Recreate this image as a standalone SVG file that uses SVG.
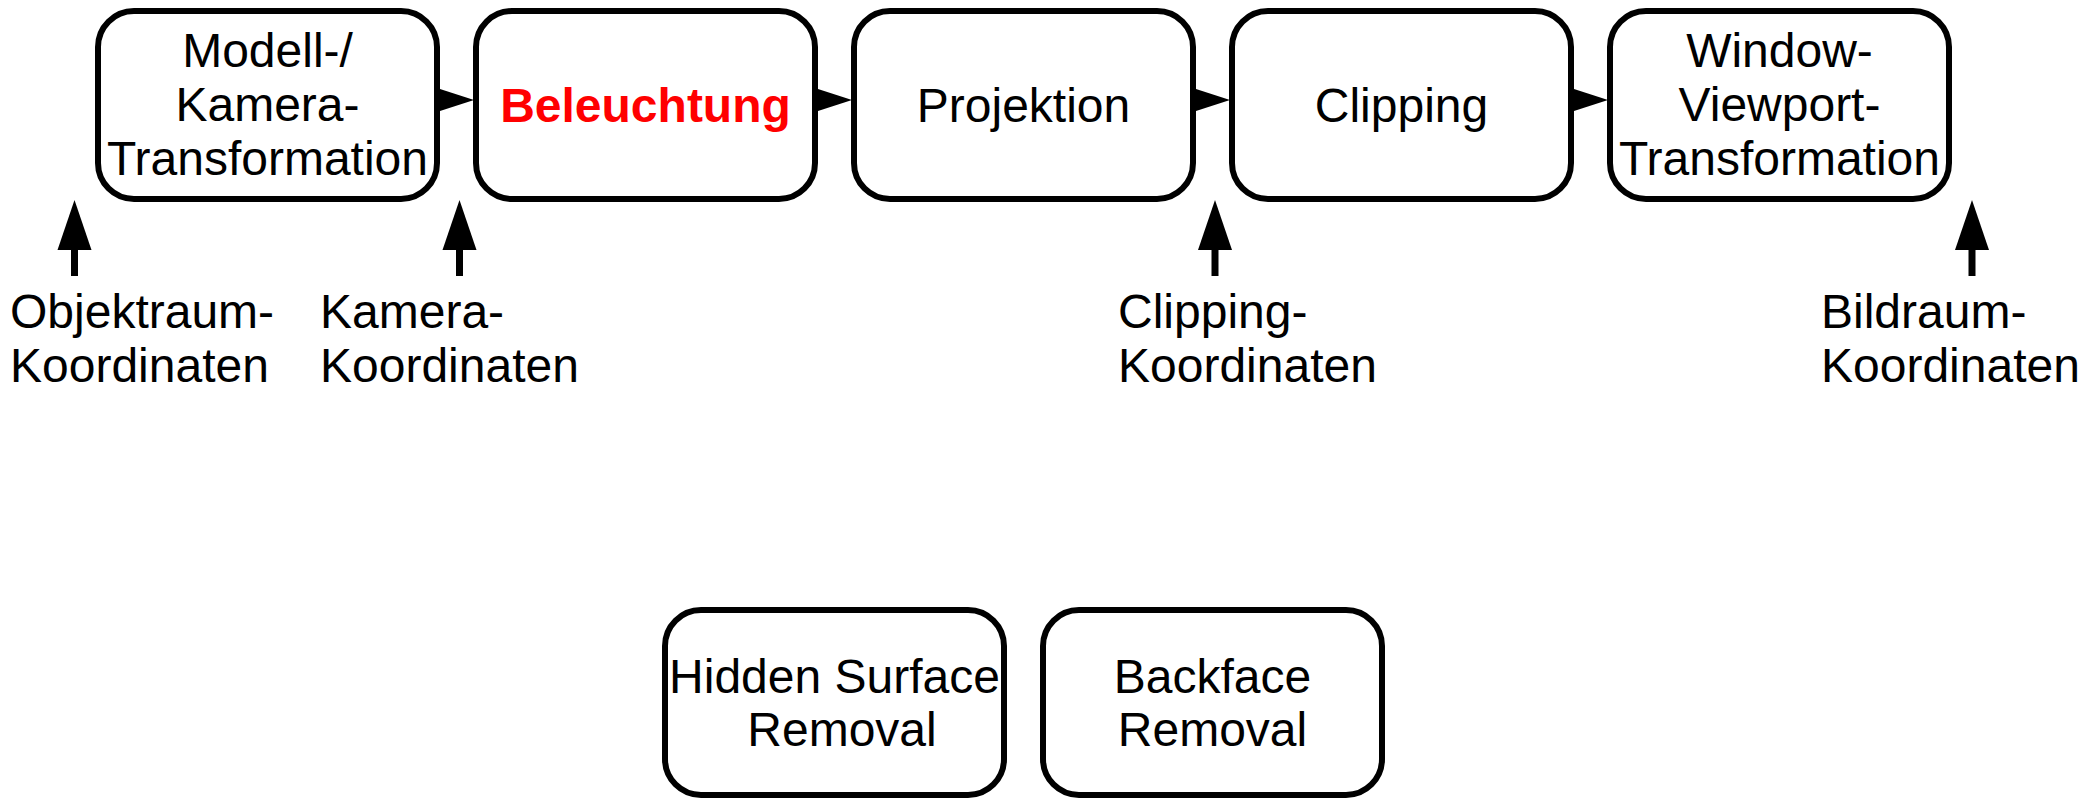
<svg xmlns="http://www.w3.org/2000/svg" width="2088" height="798" viewBox="0 0 2088 798">
<style>
.box{fill:#fff;stroke:#000;stroke-width:6}
.t{font-family:"Liberation Sans",Arial,sans-serif;font-size:48px;fill:#000}
.c{text-anchor:middle}
.red{fill:#ff0000;font-weight:bold}
.head{fill:#000;stroke:none}
.shaft{stroke:#000;stroke-width:7;fill:none}
</style>
<rect width="2088" height="798" fill="#fff"/>
<g id="n1">
<rect class="box" x="98" y="11" width="339" height="188" rx="36"/>
<text class="t c" x="267.5" y="67">Modell-/</text>
<text class="t c" x="267.5" y="121">Kamera-</text>
<text class="t c" x="267.5" y="175">Transformation</text>
</g>
<g id="n2">
<rect class="box" x="476" y="11" width="339" height="188" rx="36"/>
<text class="t c red" x="645.5" y="122">Beleuchtung</text>
</g>
<g id="n3">
<rect class="box" x="854" y="11" width="339" height="188" rx="36"/>
<text class="t c" x="1023.5" y="122">Projektion</text>
</g>
<g id="n4">
<rect class="box" x="1232" y="11" width="339" height="188" rx="36"/>
<text class="t c" x="1401.5" y="122">Clipping</text>
</g>
<g id="n5">
<rect class="box" x="1610" y="11" width="339" height="188" rx="36"/>
<text class="t c" x="1779.5" y="67">Window-</text>
<text class="t c" x="1779.5" y="121">Viewport-</text>
<text class="t c" x="1779.5" y="175">Transformation</text>
</g>
<g id="n6">
<rect class="box" x="665" y="610" width="339" height="185" rx="36"/>
<text class="t c" x="834.5" y="693">Hidden Surface</text>
<text class="t c" x="842" y="746">Removal</text>
</g>
<g id="n7">
<rect class="box" x="1043" y="610" width="339" height="185" rx="36"/>
<text class="t c" x="1212.5" y="693">Backface</text>
<text class="t c" x="1212.5" y="746">Removal</text>
</g>
<g id="labels">
<text class="t" x="10" y="328">Objektraum-</text>
<text class="t" x="10" y="382">Koordinaten</text>
<text class="t" x="320" y="328">Kamera-</text>
<text class="t" x="320" y="382">Koordinaten</text>
<text class="t" x="1118" y="328">Clipping-</text>
<text class="t" x="1118" y="382">Koordinaten</text>
<text class="t" x="1821" y="328">Bildraum-</text>
<text class="t" x="1821" y="382">Koordinaten</text>
</g>
<g id="connectors">
<path class="head" d="M440,89 L474,100 L440,111 Z"/>
<path class="head" d="M818,89 L852,100 L818,111 Z"/>
<path class="head" d="M1196,89 L1230,100 L1196,111 Z"/>
<path class="head" d="M1574,89 L1608,100 L1574,111 Z"/>
<line class="shaft" x1="74.5" y1="276" x2="74.5" y2="246"/>
<path class="head" d="M74.5,200 L91.5,250 L57.5,250 Z"/>
<line class="shaft" x1="459.5" y1="276" x2="459.5" y2="246"/>
<path class="head" d="M459.5,200 L476.5,250 L442.5,250 Z"/>
<line class="shaft" x1="1215" y1="276" x2="1215" y2="246"/>
<path class="head" d="M1215,200 L1232,250 L1198,250 Z"/>
<line class="shaft" x1="1972" y1="276" x2="1972" y2="246"/>
<path class="head" d="M1972,200 L1989,250 L1955,250 Z"/>
</g>
</svg>
